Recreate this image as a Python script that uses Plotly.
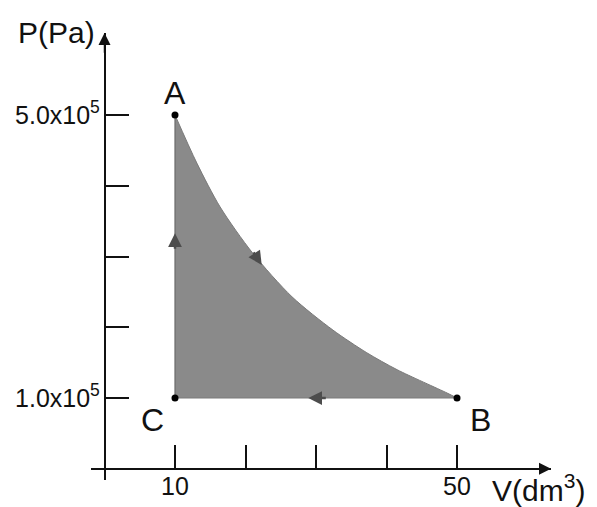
import plotly.graph_objects as go

# ---- data ----
V_curve = [10, 13.1, 16.4, 21.0, 26.6, 32.4, 37.2, 41.5, 48.6, 50]        # dm^3
P_curve = [5.0e5, 4.32e5, 3.70e5, 3.05e5, 2.43e5, 1.96e5, 1.64e5, 1.40e5, 1.07e5, 1.0e5]  # Pa

point_names = ["A", "B", "C"]
V_points = [10, 50, 10]
P_points = [5.0e5, 1.0e5, 1.0e5]

x_tickvals = [10, 20, 30, 40, 50]
x_ticktext = ["10", "", "", "", "50"]
y_tickvals = [1e5, 2e5, 3e5, 4e5, 5e5]
y_ticktext = ["1.0x10<sup>5</sup>", "", "", "", "5.0x10<sup>5</sup>"]

# direction arrows along the cycle (tail -> tip)
arrow_tail_V = [10, 21.0, 31.6]
arrow_tail_P = [3.09e5, 3.08e5, 1.0e5]
arrow_tip_V = [10, 22.3, 28.9]
arrow_tip_P = [3.33e5, 2.88e5, 1.0e5]

x_range = [-1.915, 63.33]
y_range = [-0.159e5, 6.159e5]

FONT = "Arial, Liberation Sans, sans-serif"
INK = "#111111"
FILL = "#8a8a8a"

fig = go.Figure()

# baseline C-B
fig.add_trace(go.Scatter(x=[V_points[2], V_points[1]], y=[P_points[2], P_points[1]],
                         mode="lines", line=dict(color="#7a7a7a", width=1),
                         hoverinfo="skip", showlegend=False))
# curve A-B, filled down to C-B
fig.add_trace(go.Scatter(x=V_curve, y=P_curve, mode="lines",
                         line=dict(color="#7a7a7a", width=1, shape="spline", smoothing=0.8),
                         fill="tonexty", fillcolor=FILL,
                         hoverinfo="skip", showlegend=False))
# vertical C-A
fig.add_trace(go.Scatter(x=[V_points[2], V_points[0]], y=[P_points[2], P_points[0]],
                         mode="lines", line=dict(color="#6a6a6a", width=1.2),
                         hoverinfo="skip", showlegend=False))
# state points
fig.add_trace(go.Scatter(x=V_points, y=P_points, mode="markers",
                         marker=dict(color="#000", size=7),
                         hoverinfo="skip", showlegend=False))

annotations = []
# point labels
shifts = {"A": (0, 22), "B": (23, -22), "C": (-23, -22)}
for n, v, p in zip(point_names, V_points, P_points):
    dx, dy = shifts[n]
    annotations.append(dict(x=v, y=p, xref="x", yref="y", text=n, showarrow=False,
                            xshift=dx, yshift=dy, xanchor="center", yanchor="middle",
                            font=dict(family=FONT, size=32, color=INK)))
# cycle direction arrows
for tv, tp, hv, hp in zip(arrow_tail_V, arrow_tail_P, arrow_tip_V, arrow_tip_P):
    annotations.append(dict(x=hv, y=hp, ax=tv, ay=tp, xref="x", yref="y", axref="x", ayref="y",
                            text="", showarrow=True, arrowhead=2, arrowsize=1.1,
                            arrowwidth=2.5, arrowcolor="#4d4d4d", standoff=0))
# axis arrowheads
annotations.append(dict(x=0, y=y_range[1], ax=0, ay=y_range[1] - 0.3e5, xref="x", yref="y",
                        axref="x", ayref="y", text="", showarrow=True, arrowhead=2,
                        arrowsize=1.6, arrowwidth=1.5, arrowcolor=INK, standoff=0))
annotations.append(dict(x=x_range[1], y=0, ax=x_range[1] - 2.5, ay=0, xref="x", yref="y",
                        axref="x", ayref="y", text="", showarrow=True, arrowhead=2,
                        arrowsize=1.6, arrowwidth=1.5, arrowcolor=INK, standoff=0))
# axis titles
annotations.append(dict(x=0.0131, y=1.002, xref="paper", yref="paper", text="P(Pa)",
                        showarrow=False, xanchor="right", yanchor="middle",
                        font=dict(family=FONT, size=30, color=INK)))
annotations.append(dict(x=0.867, y=-0.018, xref="paper", yref="paper", text="V(dm<sup>3</sup>)",
                        showarrow=False, xanchor="left", yanchor="middle",
                        font=dict(family=FONT, size=30, color=INK)))

axis_common = dict(showgrid=False, zeroline=False, showline=True, linecolor=INK, linewidth=1.5,
                   ticks="inside", tickwidth=1.5, tickcolor=INK, anchor="free", automargin=False,
                   tickfont=dict(family=FONT, size=25, color=INK), fixedrange=True)

fig.update_layout(
    width=597, height=507,
    margin=dict(l=91, r=46, t=33, b=27, autoexpand=False),
    paper_bgcolor="white", plot_bgcolor="white",
    xaxis=dict(range=x_range, position=0.02517, ticklen=23, ticklabelstandoff=-4,
               tickvals=x_tickvals, ticktext=x_ticktext, **axis_common),
    yaxis=dict(range=y_range, position=0.02954, ticklen=24, ticklabelstandoff=-1,
               tickvals=y_tickvals, ticktext=y_ticktext, **axis_common),
    annotations=annotations,
    showlegend=False,
)

fig.write_html("out.html", config={"displayModeBar": False},
               post_script="document.body.style.margin='0';document.body.style.overflow='hidden';")
